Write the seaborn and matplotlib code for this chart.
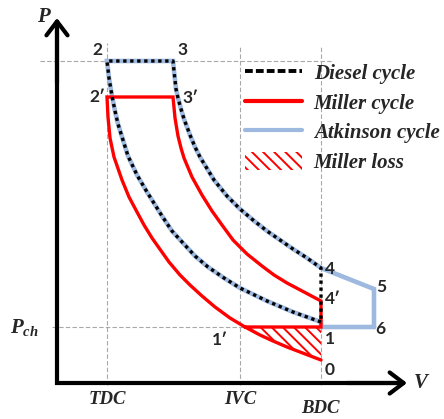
import matplotlib
matplotlib.use("Agg")
import matplotlib.pyplot as plt
import seaborn as sns
import pandas as pd
from matplotlib.lines import Line2D
from matplotlib.patches import Patch
from matplotlib.font_manager import FontProperties

# ---- values (arbitrary V / P units) ----
V_TDC, V_IVC, V_BDC = 50, 183, 264
P_CH, P_2, P_2P = 56, 322, 286
V_5, P_5, P_0 = 317, 94, 23

diesel_comp_V = [264, 236, 210, 183, 167, 151, 138, 126, 115, 105, 90, 80, 71, 61, 58, 55, 52, 50]
diesel_comp_P = [61, 71, 82, 95, 105, 116, 127, 140, 152, 167, 191, 208, 227, 259, 272, 287, 305, 322]
diesel_exp_V = [116, 117, 118, 119, 121, 124, 127, 133, 138, 143, 157, 170, 183, 196, 210, 223, 236, 250, 264]
diesel_exp_P = [322, 312, 303, 294, 285, 274, 264, 248, 236, 226, 203, 187, 174, 163, 152, 143, 134, 125, 115]

miller_comp_V = [50, 51, 53, 57, 65, 72, 80, 87, 95, 112, 123, 133, 145, 158, 173, 188, 203, 216, 230, 243, 264]
miller_comp_P = [286, 266, 245, 226, 203, 186, 171, 158, 145, 121, 108, 98, 87, 76, 65, 56, 48, 42, 36, 31, 23]
miller_exp_V = [116, 118, 121, 124, 127, 135, 145, 155, 165, 176, 190, 205, 217, 230, 247, 264]
miller_exp_P = [286, 265, 247, 235, 225, 206, 188, 172, 158, 143, 129, 117, 108, 100, 91, 82]

legend_labels = ["Diesel cycle", "Miller cycle", "Atkinson cycle", "Miller loss"]

RED = "#ff0000"
BLUE = "#9db9e0"
GRAY = "#a8a8a8"

sns.set_style("white")
plt.rcParams["font.family"] = ["Lato", "DejaVu Sans"]
plt.rcParams["hatch.linewidth"] = 1.4
plt.rcParams["mathtext.fontset"] = "custom"
plt.rcParams["mathtext.it"] = "Liberation Serif:italic:bold"
plt.rcParams["mathtext.rm"] = "Liberation Serif:bold"

fig = plt.figure(figsize=(4.44, 4.19), dpi=100)
ax = fig.add_axes([0, 0, 1, 1])
ax.set_xlim(-57, 387)
ax.set_ylim(-36, 383)
ax.axis("off")

# guide lines
gkw = dict(color=GRAY, lw=0.8, ls=(0, (4, 2)), zorder=1)
ax.vlines([V_TDC], -2, 340, **gkw)
ax.vlines([V_IVC, V_BDC], -2, 336, **gkw)
ax.hlines([P_2], -17, 275, **gkw)
ax.hlines([P_CH], -5, V_BDC, **gkw)

# hatched Miller loss (between the intake line and the expansion 1'->0)
loss_V = [v for v in miller_comp_V if v >= V_IVC + 5]
loss_P = miller_comp_P[len(miller_comp_V) - len(loss_V):]
ax.fill_between(loss_V, loss_P, P_CH, facecolor="none",
                edgecolor=RED, hatch="\\\\\\", linewidth=0, zorder=2)

# Atkinson cycle
atk = pd.DataFrame({
    "V": [V_5, V_BDC] + diesel_comp_V + diesel_exp_V + [V_5, V_5],
    "P": [P_CH, P_CH] + diesel_comp_P + diesel_exp_P + [P_5, P_CH],
})
sns.lineplot(data=atk, x="V", y="P", sort=False, estimator=None, ax=ax,
             color=BLUE, lw=3.3, zorder=3, solid_joinstyle="miter")

# Miller cycle
mil = pd.DataFrame({
    "V": miller_comp_V[::-1] + miller_exp_V + [V_BDC, V_IVC + 5],
    "P": miller_comp_P[::-1] + miller_exp_P + [P_CH, P_CH],
})
sns.lineplot(data=mil, x="V", y="P", sort=False, estimator=None, ax=ax,
             color=RED, lw=2.4, zorder=4, solid_joinstyle="miter")

# Diesel cycle (dotted overlay)
die = pd.DataFrame({
    "V": diesel_comp_V + diesel_exp_V + [V_BDC],
    "P": diesel_comp_P + diesel_exp_P + [diesel_comp_P[0]],
})
sns.lineplot(data=die, x="V", y="P", sort=False, estimator=None, ax=ax,
             color="black", lw=2.4, linestyle=(0, (1, 1.1)), zorder=5,
             dash_capstyle="butt")

# axes arrows
ax.plot([0, 0, 345], [360, 0, 0], color="black", lw=3, solid_joinstyle="miter",
        solid_capstyle="projecting", zorder=6)
akw = dict(arrowstyle="->,head_length=0.5,head_width=0.38", lw=3, color="black",
           shrinkA=0, shrinkB=0, mutation_scale=20)
ax.annotate("", xy=(0, 365), xytext=(0, 300), arrowprops=akw, zorder=6)
ax.annotate("", xy=(350, 0), xytext=(290, 0), arrowprops=akw, zorder=6)

# labels
ser = dict(family="Liberation Serif", weight="bold", style="italic")
ax.text(-14, 366, "P", fontsize=15, ha="center", va="center", **ser)
ax.text(364, 0, "V", fontsize=15, ha="center", va="center", **ser)
ax.text(-33, 56, r"$P_{ch}$", fontsize=15, ha="center", va="center")
ax.text(V_TDC, -16, "TDC", fontsize=13.5, ha="center", va="center", **ser)
ax.text(V_IVC, -16, "IVC", fontsize=13.5, ha="center", va="center", **ser)
ax.text(V_BDC - 1, -25, "BDC", fontsize=13.5, ha="center", va="center", **ser)

nkw = dict(fontsize=12.5, fontweight="bold", va="center",
           family=["Lato", "DejaVu Sans"])
ax.text(40, 333, "2", ha="center", **nkw)
ax.text(126, 333, "3", ha="center", **nkw)
ax.text(48, 286, "2\u2032", ha="right", **nkw)
ax.text(125, 285, "3\u2032", ha="left", **nkw)
ax.text(268, 114, "4", ha="left", **nkw)
ax.text(268, 84, "4\u2032", ha="left", **nkw)
ax.text(319, 96, "5", ha="left", **nkw)
ax.text(318, 54, "6", ha="left", **nkw)
ax.text(268, 44, "1", ha="left", **nkw)
ax.text(268, 13, "0", ha="left", **nkw)
ax.text(163, 43, "1\u2032", ha="center", **nkw)

# legend
handles = [
    Line2D([], [], color="black", lw=2.8, linestyle=(0, (2.0, 0.8))),
    Line2D([], [], color=RED, lw=3.0),
    Line2D([], [], color=BLUE, lw=3.0),
    Patch(facecolor="none", edgecolor=RED, hatch="\\\\\\", linewidth=0),
]
leg = ax.legend(handles, legend_labels, loc="upper left",
                bbox_to_anchor=(245 / 444, 1 - 63 / 419), bbox_transform=fig.transFigure,
                frameon=False, borderpad=0, borderaxespad=0,
                handlelength=2.74, handleheight=0.96, handletextpad=0.56,
                labelspacing=0.4,
                prop=FontProperties(family="Liberation Serif", weight="bold",
                                    style="italic", size=15))

fig.savefig("out.png", dpi=100)
